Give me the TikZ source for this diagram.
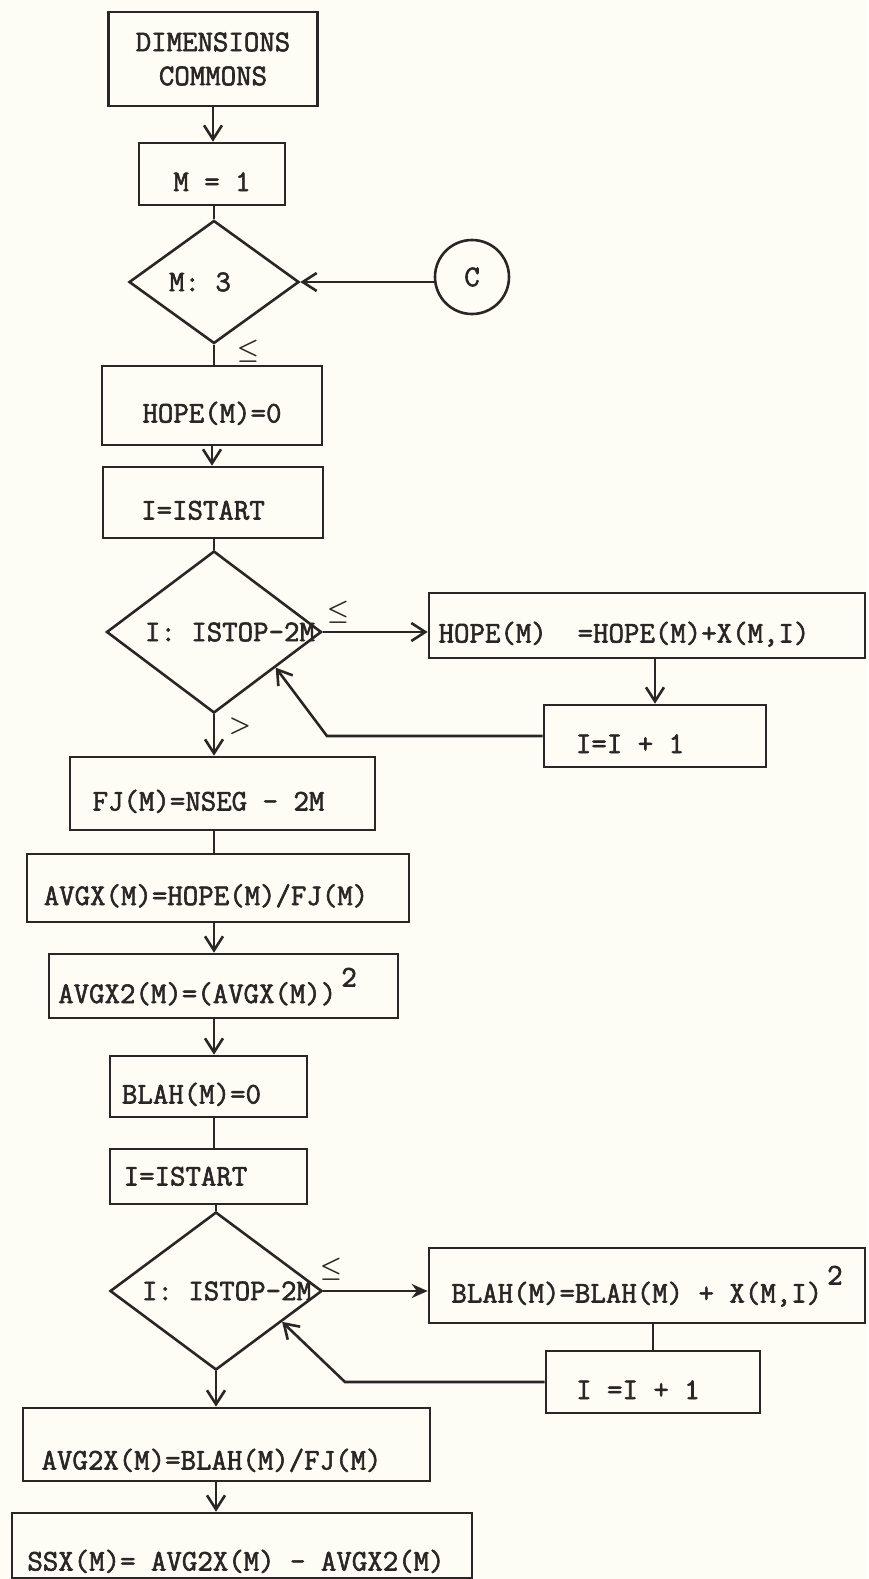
\documentclass[tikz,border=0pt]{standalone}
\usepackage{fontspec}
\setmonofont{Latin Modern Mono}[FakeBold=2]
\usepackage{amsmath,amssymb}
\usetikzlibrary{arrows.meta,positioning,calc,shapes.geometric}
\definecolor{mInk}{RGB}{42,38,38}
\definecolor{mPaper}{RGB}{253,253,245}

\begin{document}
\begin{tikzpicture}[x=1pt, y=-1pt, mInk, line width=2.6pt,
    cell/.style={draw, rectangle, inner sep=0pt, font=\ttfamily\fontsize{30}{34}\selectfont},
    stmt/.style={cell, text height=34pt, text depth=0pt},
    decision/.style={draw, diamond, inner sep=0pt, font=\ttfamily\fontsize{30}{34}\selectfont},
    flow/.style={-{Straight Barb[length=14pt,width=18pt]}},
    rel/.style={inner sep=0pt, font=\fontsize{24}{28}\selectfont}]
    \fill[mPaper] (0,0) rectangle (868,1579);
    \useasboundingbox (0,0) rectangle (868,1579);
    % declarations, M = 1 and the test on M
    \node[cell, align=center, minimum width=209pt, minimum height=94pt] (dims) at (213,59) {DIMENSIONS\\COMMONS};
    \node[stmt, minimum width=146pt, minimum height=62pt] (mone) at (212,174) {M = 1};
    \node[decision, minimum width=170pt, minimum height=123pt] (mtest) at (214,282) {\makebox[0pt]{\hspace*{-28pt}M: 3}};
    \node[draw, circle, minimum size=74pt, inner sep=0pt, font=\ttfamily\fontsize{30}{34}\selectfont] (conc) at (472,277) {C};
    \draw[flow] (dims.south) -- (dims.south |- mone.north);
    \draw (mtest.north |- mone.south) -- (mtest.north);
    \draw[flow] (mtest.east -| conc.west) -- (mtest.east);
    \draw (mtest.south) -- (mtest.south |- 0,366);
    \node[rel] (leone) at (248,351) {$\boldsymbol{\leq}$};
    % first loop -- HOPE(M) summed over I
    \node[stmt, minimum width=220pt, minimum height=79pt] (hopezero) at (212,405.5) {HOPE(M)=0};
    \node[stmt, minimum width=220pt, minimum height=71pt] (istart) at (213,502.5) {I=ISTART\hspace*{20pt}};
    \node[decision, minimum width=215pt, minimum height=162pt] (loopa) at (214,632) {\makebox[0pt]{\hspace*{32pt}I: ISTOP-2M}};
    \node[stmt, minimum width=436pt, minimum height=65pt] (hopesum) at (647,625.5) {HOPE(M)\ \ =HOPE(M)+X(M,I)\hspace*{46pt}};
    \node[stmt, minimum width=222pt, minimum height=62pt] (incone) at (655,736) {I=I + 1\hspace*{50pt}};
    \coordinate (backa) at (327,735);
    \draw[flow] (hopezero.south) -- (hopezero.south |- istart.north);
    \draw (loopa.north |- istart.south) -- (loopa.north);
    \draw[flow] (loopa.east) -- (loopa.east -| hopesum.west);
    \node[rel] (letwo) at (338,612) {$\boldsymbol{\leq}$};
    \draw[flow] (incone.north |- hopesum.south) -- (incone.north);
    \draw[flow] (incone.west) -- (incone.west -| backa) -- (loopa.-30);
    \node[rel] (gtone) at (240,726) {$\boldsymbol{>}$};
    % averages of X and of its square
    \node[stmt, minimum width=305pt, minimum height=73pt] (fj) at (222.5,793.5) {FJ(M)=NSEG - 2M\hspace*{28pt}};
    \node[stmt, minimum width=382pt, minimum height=68pt] (avgx) at (218,888) {AVGX(M)=HOPE(M)/FJ(M)\hspace*{24pt}};
    \node[stmt, minimum width=349pt, minimum height=64pt] (avgxsq) at (223.5,986) {AVGX2(M)=(AVGX(M))\,\raisebox{0.55em}{2}\hspace*{32pt}};
    \node[stmt, minimum width=197pt, minimum height=61pt] (blahzero) at (208.5,1086.5) {BLAH(M)=0\hspace*{34pt}};
    \node[stmt, text height=18pt, minimum width=197pt, minimum height=55pt] (istarttwo) at (208.5,1176.5) {I=ISTART\hspace*{46pt}};
    \draw[flow] (loopa.south) -- (loopa.south |- fj.north);
    \draw (loopa.south |- fj.south) -- (loopa.south |- avgx.north);
    \draw[flow] (loopa.south |- avgx.south) -- (loopa.south |- avgxsq.north);
    \draw[flow] (loopa.south |- avgxsq.south) -- (loopa.south |- blahzero.north);
    \draw (loopa.south |- blahzero.south) -- (loopa.south |- istarttwo.north);
    % second loop -- BLAH(M) summed over I
    \node[decision, minimum width=212pt, minimum height=158pt] (loopb) at (216,1291) {\makebox[0pt]{\hspace*{22pt}I: ISTOP-2M}};
    \node[stmt, minimum width=436pt, minimum height=75pt] (blahsum) at (647,1285.5) {BLAH(M)=BLAH(M) + X(M,I)\,\raisebox{0.6em}{2}};
    \node[stmt, minimum width=214pt, minimum height=62pt] (inctwo) at (653,1382) {I =I + 1\hspace*{30pt}};
    \coordinate (backb) at (345,1382);
    \draw (loopb.north |- istarttwo.south) -- (loopb.north);
    \draw[-{Stealth[length=16pt,width=14pt]}] (loopb.east) -- (loopb.east -| blahsum.west);
    \node[rel] (lethree) at (331,1269) {$\boldsymbol{\leq}$};
    \draw (inctwo.north |- blahsum.south) -- (inctwo.north);
    \draw[flow] (inctwo.west) -- (inctwo.west -| backb) -- (loopb.-25);
    % final sums
    \node[stmt, text height=50pt, minimum width=407pt, minimum height=73pt] (avgtwox) at (226.5,1444.5) {AVG2X(M)=BLAH(M)/FJ(M)\hspace*{30pt}};
    \node[stmt, text height=50pt, minimum width=460pt, minimum height=65pt] (ssx) at (242,1545.5) {SSX(M)= AVG2X(M) - AVGX2(M)\hspace*{12pt}};
    \draw[flow] (loopb.south) -- (loopb.south |- avgtwox.north);
    \draw[flow] (loopb.south |- avgtwox.south) -- (loopb.south |- ssx.north);
\end{tikzpicture}
\end{document}
